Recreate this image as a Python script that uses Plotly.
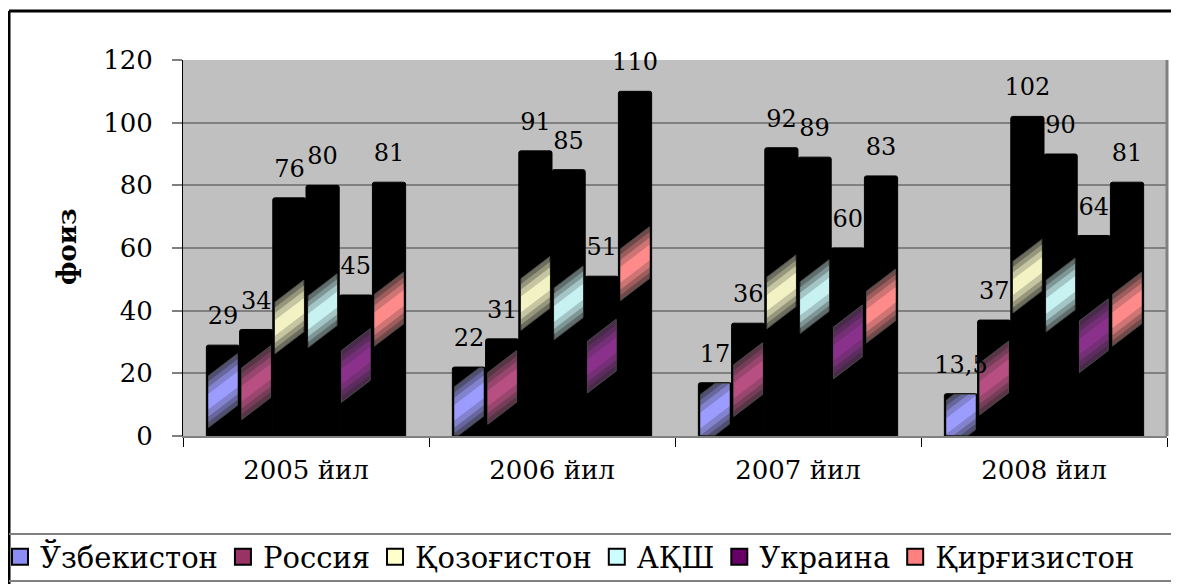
import plotly.graph_objects as go

# ---- data ----
categories = ["2005 йил", "2006 йил", "2007 йил", "2008 йил"]
series_names = ["Ўзбекистон", "Россия", "Қозоғистон", "АҚШ", "Украина", "Қирғизистон"]
uzbekistan = [29, 22, 17, 13.5]
russia = [34, 31, 36, 37]
kazakhstan = [76, 91, 92, 102]
usa = [80, 85, 89, 90]
ukraine = [45, 51, 60, 64]
kyrgyzstan = [81, 110, 83, 81]
series_values = [uzbekistan, russia, kazakhstan, usa, ukraine, kyrgyzstan]
y_ticks = [0, 20, 40, 60, 80, 100, 120]
axis_title = "фоиз"

# ---- style ----
legend_colors = ["#8c8cf5", "#993366", "#FFFFCC", "#CCFFFF", "#660066", "#FF8080"]
band_colors = ["#9c9cff", "#b84f82", "#f2f2c4", "#c8f2f2", "#8a318c", "#ff8a8a"]
FONT = "DejaVu Serif"
BAR_W = 0.135
BAND_INSET = 0.009
BAND_SLANT = 7.0
BAND_LAYERS = [(16.5, 0.35), (13.0, 0.55), (9.5, 0.78), (5.0, 1.0)]
LABEL_OFFSET = 8.6

OFF = 8  # page offset of the figure (body margin)


def blend(c, dark, t):
    c = c.lstrip("#"); dark = dark.lstrip("#")
    a = [int(c[k:k + 2], 16) for k in (0, 2, 4)]
    b = [int(dark[k:k + 2], 16) for k in (0, 2, 4)]
    return "#" + "".join("%02x" % round(b[k] + (a[k] - b[k]) * t) for k in range(3))


def clip_poly(pts, ymin, ymax):
    def clip(pts, keep, y0):
        out = []
        n = len(pts)
        for k in range(n):
            cur, prev = pts[k], pts[k - 1]
            def inter(p, q):
                return (p[0] + (q[0] - p[0]) * (y0 - p[1]) / (q[1] - p[1]), y0)
            if keep(cur):
                if not keep(prev):
                    out.append(inter(prev, cur))
                out.append(cur)
            elif keep(prev):
                out.append(inter(prev, cur))
        return out
    pts = clip(pts, lambda p: p[1] >= ymin, ymin)
    if pts:
        pts = clip(pts, lambda p: p[1] <= ymax, ymax)
    return pts


fig = go.Figure()

cat_pos = list(range(len(categories)))
n_series = len(series_names)

# black bars
for j, (name, vals) in enumerate(zip(series_names, series_values)):
    xs = [c + (j - (n_series - 1) / 2) * BAR_W for c in cat_pos]
    fig.add_trace(go.Bar(
        x=xs, y=vals, width=BAR_W, name=name, showlegend=False,
        marker=dict(color="black", line=dict(color="black", width=1), cornerradius=2),
        hoverinfo="skip",
    ))

# gradient-like diagonal bands inside the bars
for j, (name, vals) in enumerate(zip(series_names, series_values)):
    for thick, t in BAND_LAYERS:
        px, py = [], []
        for c, v in zip(cat_pos, vals):
            xc = c + (j - (n_series - 1) / 2) * BAR_W
            x0 = xc - BAR_W / 2 + BAND_INSET
            x1 = xc + BAR_W / 2 - BAND_INSET
            cl = v / 2 - BAND_SLANT / 2
            cr = v / 2 + BAND_SLANT / 2
            poly = [(x0, cl - thick / 2), (x1, cr - thick / 2), (x1, cr + thick / 2), (x0, cl + thick / 2)]
            poly = clip_poly(poly, 0.3, v - 0.3)
            if len(poly) >= 3:
                for p in poly + [poly[0]]:
                    px.append(p[0]); py.append(p[1])
                px.append(None); py.append(None)
        col = blend(band_colors[j], "#262626", t)
        fig.add_trace(go.Scatter(
            x=px, y=py, mode="lines", fill="toself", fillcolor=col,
            line=dict(width=1 if t < 0.4 else 0, color="#4a4a4a"),
            showlegend=False, hoverinfo="skip",
        ))

# value labels
for j, (name, vals) in enumerate(zip(series_names, series_values)):
    xs = [c + (j - (n_series - 1) / 2) * BAR_W for c in cat_pos]
    txt = [("%g" % v).replace(".", ",") for v in vals]
    fig.add_trace(go.Scatter(
        x=xs, y=[v + LABEL_OFFSET for v in vals], mode="text", text=txt,
        textposition="middle center",
        textfont=dict(family=FONT, size=24, color="black"),
        showlegend=False, hoverinfo="skip", cliponaxis=False,
    ))

# legend entries
for name, col in zip(series_names, legend_colors):
    fig.add_trace(go.Scatter(
        x=[None], y=[None], mode="markers", name=name,
        marker=dict(symbol="square", size=16, color=col, line=dict(color="black", width=2)),
    ))

W, H = 1179 - OFF, 584 - OFF
L = 183 - OFF
T = 60 - OFF
R = W - (1167 - OFF)
B = H - (436 - OFF)
pw, ph = W - L - R, H - T - B


def px2x(p):
    return (p - OFF - L) / pw


def px2y(p):
    return (H - B - (p - OFF)) / ph


shapes = [
    # outer frame
    dict(type="line", xref="paper", yref="paper", x0=px2x(9), x1=px2x(1190), y0=px2y(11), y1=px2y(11),
         line=dict(color="black", width=3)),
    dict(type="line", xref="paper", yref="paper", x0=px2x(9), x1=px2x(9), y0=px2y(11), y1=px2y(600),
         line=dict(color="black", width=3)),
    # legend box lines
    dict(type="line", xref="paper", yref="paper", x0=px2x(9), x1=px2x(1190), y0=px2y(534), y1=px2y(534),
         line=dict(color="#808080", width=2)),
    dict(type="line", xref="paper", yref="paper", x0=px2x(9), x1=px2x(1190), y0=px2y(581), y1=px2y(581),
         line=dict(color="#808080", width=2)),
    # right border of plot area
    dict(type="line", xref="paper", yref="paper", x0=1, x1=1, y0=0, y1=1,
         line=dict(color="#808080", width=3)),
]

fig.update_layout(
    width=W, height=H, autosize=False,
    margin=dict(l=L, r=R, t=T, b=B, pad=0, autoexpand=False),
    paper_bgcolor="white", plot_bgcolor="#C0C0C0",
    barmode="overlay",
    font=dict(family=FONT, color="black"),
    showlegend=True,
    legend=dict(orientation="h", x=px2x(0), xanchor="left", y=px2y(557), yanchor="middle",
                font=dict(family=FONT, size=29, color="black"), bgcolor="rgba(0,0,0,0)",
                itemwidth=30, traceorder="normal"),
    shapes=shapes,
    annotations=[dict(text="<b>" + axis_title + "</b>", xref="paper", yref="paper",
                      x=px2x(67), y=px2y(247), xanchor="center", yanchor="middle",
                      textangle=-90, showarrow=False,
                      font=dict(family=FONT, size=26, color="black"))],
)

fig.update_yaxes(
    range=[0, 120], tickvals=y_ticks, showgrid=True, gridcolor="#808080", gridwidth=2,
    zeroline=False, showline=True, linecolor="black", linewidth=1,
    ticks="outside", ticklen=10, tickwidth=2, tickcolor="#808080",
    tickfont=dict(family=FONT, size=26, color="black"), ticklabelstandoff=14,
)
fig.update_xaxes(
    range=[-0.5, 3.5], tickvals=cat_pos, ticktext=categories, ticks="",
    showgrid=False, zeroline=False, showline=True, linecolor="#808080", linewidth=2,
    tickfont=dict(family=FONT, size=26, color="black"), ticklabelstandoff=10,
    minor=dict(tick0=-0.5, dtick=1, ticks="outside", ticklen=9, tickwidth=1, tickcolor="black",
               showgrid=False),
)

fig.write_html("out.html")
